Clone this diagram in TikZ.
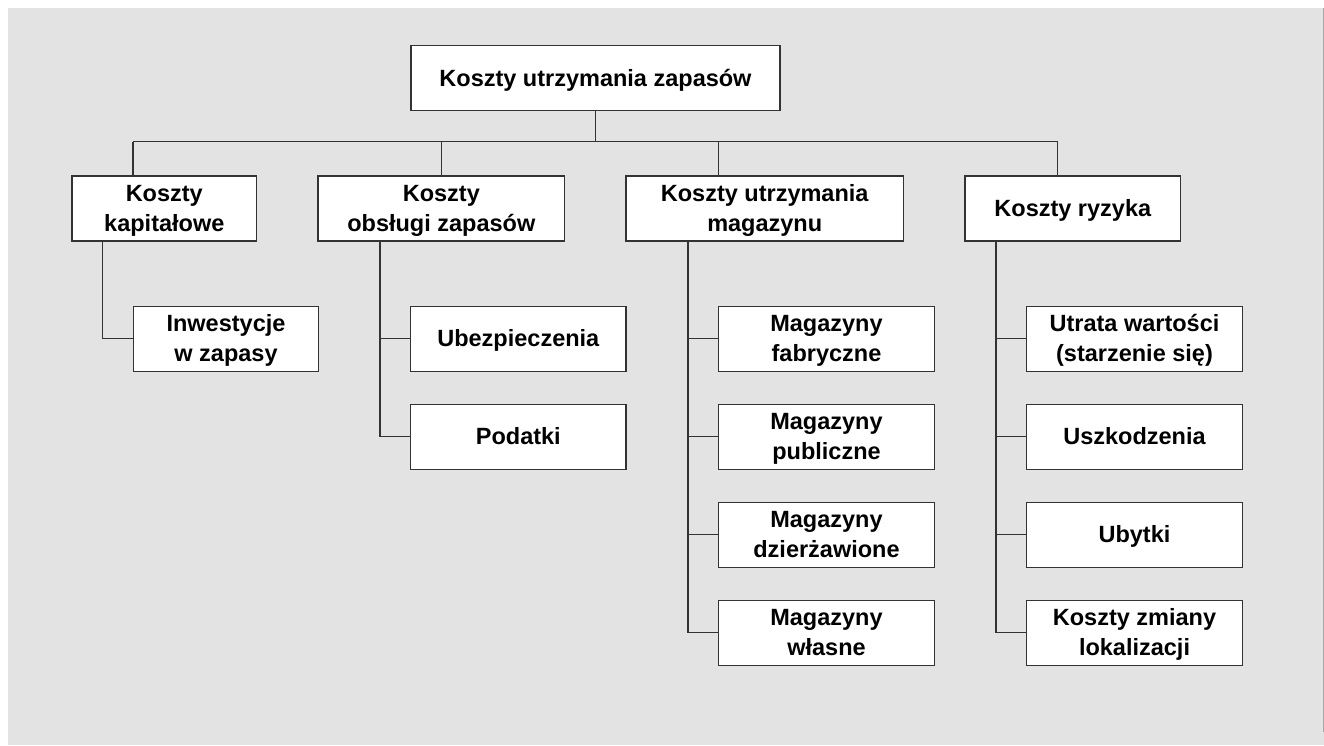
\documentclass[tikz,border=0pt]{standalone}
\usepackage{fontspec}
\setmainfont{Liberation Sans}
\definecolor{bggray}{HTML}{E3E3E3}
\definecolor{linegray}{HTML}{333333}
\newcommand\tstr{\rule{0pt}{22pt}}
\newcommand\bstr{\rule[-6pt]{0pt}{6pt}}
\begin{document}
\begin{tikzpicture}[x=1pt,y=-1pt,
  box/.style={draw=linegray,line width=1.4pt,fill=white,inner sep=0pt,
    minimum height=65pt,align=center,
    font=\fontsize{23.5}{29.5}\selectfont\bfseries},
  conn/.style={draw=linegray,line width=1.4pt}]
\useasboundingbox (0,0) rectangle (1324,745);
\fill[bggray] (8,8) rectangle (1324,745);
\draw[gray!70,line width=1pt] (1323,8) -- (1323,732);

% root
\node[box,minimum width=369pt] (root) at (595.5,78) {\tstr Koszty utrzymania zapasów\bstr};

% level 1
\node[box,minimum width=184.7pt] (k1) at (164.3,208.3) {\tstr Koszty\\kapitałowe\bstr};
\node[box,minimum width=246.7pt] (k2) at (441.3,208.3) {\tstr Koszty\\obsługi zapasów\bstr};
\node[box,minimum width=277.3pt] (k3) at (764.7,208.3) {\tstr Koszty utrzymania\\magazynu\bstr};
\node[box,minimum width=215.7pt] (k4) at (1072.8,208.3) {\tstr Koszty ryzyka\bstr};

% level 2
\node[box,minimum width=184.7pt] (a1) at (226,338.7) {\tstr Inwestycje\\w zapasy\bstr};

\node[box,minimum width=215.3pt] (b1) at (518.3,338.7) {\tstr Ubezpieczenia\bstr};
\node[box,minimum width=215.3pt] (b2) at (518.3,436.7) {\tstr Podatki\bstr};

\node[box,minimum width=215.7pt] (m1) at (826.5,338.7) {\tstr Magazyny\\fabryczne\bstr};
\node[box,minimum width=215.7pt] (m2) at (826.5,436.7) {\tstr Magazyny\\publiczne\bstr};
\node[box,minimum width=215.7pt] (m3) at (826.5,534.7) {\tstr Magazyny\\dzierżawione\bstr};
\node[box,minimum width=215.7pt] (m4) at (826.5,632.7) {\tstr Magazyny\\własne\bstr};

\node[box,minimum width=215.6pt] (r1) at (1134.5,338.7) {\tstr Utrata wartości\\(starzenie się)\bstr};
\node[box,minimum width=215.6pt] (r2) at (1134.5,436.7) {\tstr Uszkodzenia\bstr};
\node[box,minimum width=215.6pt] (r3) at (1134.5,534.7) {\tstr Ubytki\bstr};
\node[box,minimum width=215.6pt] (r4) at (1134.5,632.7) {\tstr Koszty zmiany\\lokalizacji\bstr};

% bus coordinates
\coordinate (rb) at (595.7,141.7);
\coordinate (b1x) at (133,141.7);
\coordinate (b2x) at (441.7,141.7);
\coordinate (b3x) at (718.7,141.7);
\coordinate (b4x) at (1057.7,141.7);
\coordinate (v1) at (102.7,0);
\coordinate (v2) at (380,0);
\coordinate (v3) at (688,0);
\coordinate (v4) at (996,0);

% top connectors
\draw[conn] (root.south -| rb) -- (rb);
\draw[conn] (b1x) -- (b4x);
\draw[conn] (b1x) -- (b1x |- k1.north);
\draw[conn] (b2x) -- (b2x |- k2.north);
\draw[conn] (b3x) -- (b3x |- k3.north);
\draw[conn] (b4x) -- (b4x |- k4.north);

% column 1
\draw[conn] (v1 |- k1.south) -- (v1 |- a1.west) -- (a1.west);
% column 2
\draw[conn] (v2 |- k2.south) -- (v2 |- b2.west) -- (b2.west);
\draw[conn] (v2 |- b1.west) -- (b1.west);
% column 3
\draw[conn] (v3 |- k3.south) -- (v3 |- m4.west) -- (m4.west);
\draw[conn] (v3 |- m1.west) -- (m1.west);
\draw[conn] (v3 |- m2.west) -- (m2.west);
\draw[conn] (v3 |- m3.west) -- (m3.west);
% column 4
\draw[conn] (v4 |- k4.south) -- (v4 |- r4.west) -- (r4.west);
\draw[conn] (v4 |- r1.west) -- (r1.west);
\draw[conn] (v4 |- r2.west) -- (r2.west);
\draw[conn] (v4 |- r3.west) -- (r3.west);
\end{tikzpicture}
\end{document}
